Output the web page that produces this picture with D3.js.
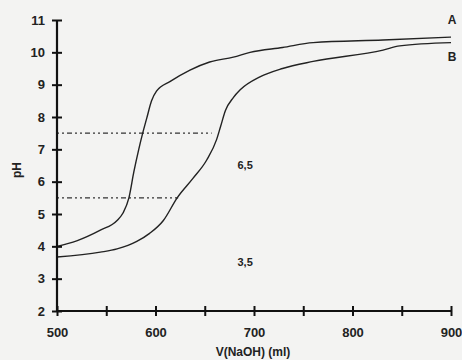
<!DOCTYPE html>
<html><head><meta charset="utf-8">
<script src="https://cdn.jsdelivr.net/npm/d3@7"></script>
<style>
html,body{margin:0;padding:0;background:#f3f3f2;}
svg{display:block;}
text{font-family:Arial,"Liberation Sans",sans-serif;font-weight:bold;fill:#222;}
</style></head>
<body>
<svg id="chart" width="462" height="360"></svg>
<script>
// Data
const curveA_x = [500,520,544,561,567,573,578,583,587,591,596,601,615,635,655,679,696,729,760,831,900];
const curveA_y = [4.0,4.17,4.5,4.8,5.03,5.5,6.3,7.0,7.5,7.95,8.5,8.8,9.1,9.45,9.7,9.85,10.0,10.15,10.3,10.38,10.47];
const curveB_x = [500,544,561,581,594,608,622,638,652,662,666,671,679,686,706,729,760,831,848,900];
const curveB_y = [3.67,3.82,3.92,4.15,4.4,4.8,5.5,6.1,6.67,7.3,7.7,8.2,8.6,8.84,9.24,9.5,9.72,10.07,10.2,10.3];
const xTicks = [500,550,600,650,700,750,800,850,900];
const xTickLabels = [500,600,700,800,900];
const yTicks = [2,3,4,5,6,7,8,9,10,11];
const refLines = [{ph:7.5, xEnd:657},{ph:5.5, xEnd:623}];
const annotations = [{text:"6,5", x:691, ph:6.38},{text:"3,5", x:691, ph:3.4}];
const seriesLabels = [{text:"A", x:901, ph:10.88},{text:"B", x:901, ph:9.73}];

const svg = d3.select("#chart");
const x = d3.scaleLinear().domain([500,900]).range([57,451]);
const y = d3.scaleLinear().domain([2,11]).range([311,20]);

// reference dashed lines
refLines.forEach(r=>{
  svg.append("line")
    .attr("x1",x(500)).attr("x2",x(r.xEnd))
    .attr("y1",y(r.ph)).attr("y2",y(r.ph))
    .attr("stroke","#333").attr("stroke-width",1.2)
    .attr("stroke-dasharray","2,3,2,3,5,3");
});

// curves
const line = d3.line().x(d=>x(d[0])).y(d=>y(d[1])).curve(d3.curveMonotoneX);
[[curveA_x,curveA_y],[curveB_x,curveB_y]].forEach(([xs,ys])=>{
  svg.append("path").datum(xs.map((v,i)=>[v,ys[i]]))
    .attr("d",line).attr("fill","none").attr("stroke","#222").attr("stroke-width",1.4);
});

// axes
const xAxis = d3.axisBottom(x).tickValues(xTicks)
  .tickFormat(d=>xTickLabels.includes(d)?d:"").tickSize(5).tickPadding(12);
const gx = svg.append("g").attr("transform",`translate(0,${y(2)})`).call(xAxis);
gx.select(".domain").attr("stroke","#111").attr("stroke-width",2.2).attr("d",`M${x(500)},0H${x(900)}`);
gx.selectAll(".tick line").attr("y1",-5).attr("y2",5).attr("stroke","#111").attr("stroke-width",2);
gx.selectAll(".tick text").style("font-size","13px").style("font-weight","bold").attr("fill","#222");

const yAxis = d3.axisLeft(y).tickValues(yTicks).tickSize(5).tickPadding(7);
const gy = svg.append("g").attr("transform",`translate(${x(500)},0)`).call(yAxis);
gy.select(".domain").attr("stroke","#111").attr("stroke-width",2.2).attr("d",`M0,${y(2)}V${y(11)}`);
gy.selectAll(".tick line").attr("x1",-5).attr("x2",5).attr("stroke","#111").attr("stroke-width",2);
gy.selectAll(".tick text").style("font-size","13px").style("font-weight","bold").attr("fill","#222");

// axis titles
svg.append("text").attr("x",253).attr("y",356).attr("text-anchor","middle")
  .style("font-size","12px").text("V(NaOH) (ml)");
svg.append("text").attr("transform","translate(21,170) rotate(-90)").attr("text-anchor","middle")
  .style("font-size","12px").text("pH");

// annotations
annotations.forEach(a=>{
  svg.append("text").attr("x",x(a.x)).attr("y",y(a.ph)).attr("text-anchor","middle")
    .style("font-size","11px").text(a.text);
});
seriesLabels.forEach(a=>{
  svg.append("text").attr("x",x(a.x)).attr("y",y(a.ph)).attr("text-anchor","middle")
    .style("font-size","12px").text(a.text);
});
</script>
</body></html>
